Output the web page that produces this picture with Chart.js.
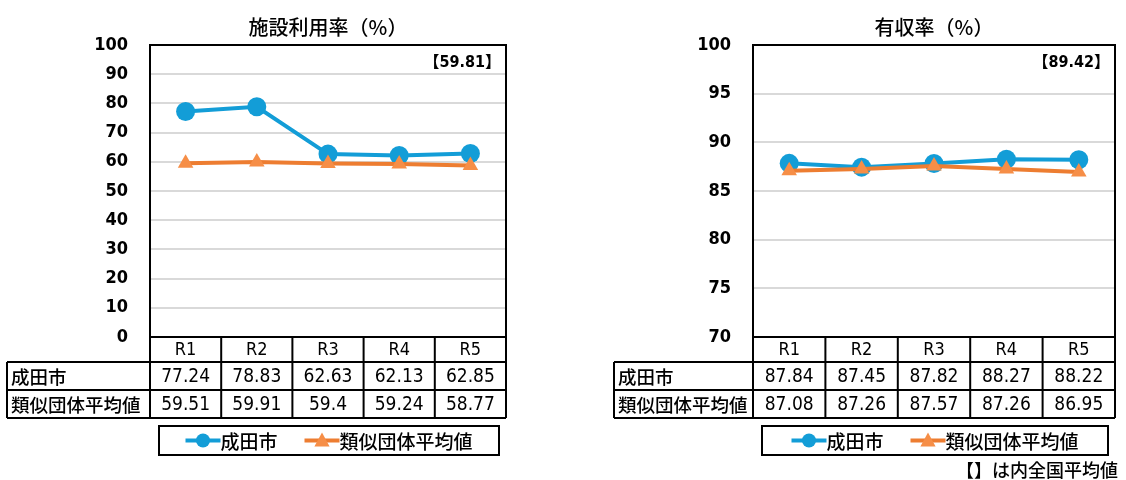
<!DOCTYPE html>
<html><head><meta charset="utf-8">
<script src="https://cdn.jsdelivr.net/npm/chart.js@4/dist/chart.umd.min.js"></script>
<style>
html,body{margin:0;padding:0;background:#fff;}
#wrap{position:relative;width:1126px;height:480px;overflow:hidden;}
.box{position:absolute;top:0;height:480px;width:563px;}
</style></head><body>
<div id="wrap">
<div class="box" style="left:0"><canvas id="c1" width="563" height="480"></canvas></div>
<div class="box" style="left:563px"><canvas id="c2" width="563" height="480"></canvas></div>
</div>
<script>
// ---- data ----
const categories = ['R1', 'R2', 'R3', 'R4', 'R5'];
const seriesNames = ['成田市', '類似団体平均値'];
const usageTitle = '施設利用率（%）';
const usageNarita = [77.24, 78.83, 62.63, 62.13, 62.85];
const usageSimilar = [59.51, 59.91, 59.4, 59.24, 58.77];
const usageNational = '59.81';
const usageYTicks = [0, 10, 20, 30, 40, 50, 60, 70, 80, 90, 100];
const revenueTitle = '有収率（%）';
const revenueNarita = [87.84, 87.45, 87.82, 88.27, 88.22];
const revenueSimilar = [87.08, 87.26, 87.57, 87.26, 86.95];
const revenueNational = '89.42';
const revenueYTicks = [70, 75, 80, 85, 90, 95, 100];
const footnoteText = '【】は内全国平均値';

// ---- styles ----
const NARROW = '"DejaVu Sans Condensed","Noto Sans CJK JP",sans-serif';
const JP = '"Noto Sans CJK JP",sans-serif';
const BLUE = '#139DD7', ORANGE = '#ED7D31', ORANGE_FILL = '#F68E47';
const JPW = '500';

function drawTri(ctx, x, y, r, color) {
  ctx.fillStyle = color;
  ctx.beginPath();
  ctx.moveTo(x, y - r);
  ctx.lineTo(x + r * 0.95, y + r * 0.75);
  ctx.lineTo(x - r * 0.95, y + r * 0.75);
  ctx.closePath();
  ctx.fill();
}

function makeChart(id, cfg) {
  const decor = {
    id: 'decor',
    beforeDatasetsDraw(chart) {
      const {ctx, chartArea: a} = chart;
      ctx.save();
      ctx.strokeStyle = '#000';
      ctx.lineWidth = 2;
      ctx.strokeRect(a.left, a.top, a.right - a.left, a.bottom - a.top);
      ctx.fillStyle = '#000';
      ctx.font = 'bold 16px ' + NARROW;
      ctx.textAlign = 'right';
      ctx.textBaseline = 'middle';
      ctx.fillText('【' + cfg.nat + '】', a.right - 5, a.top + 18);
      ctx.restore();
    },
    afterDraw(chart) {
      const {ctx, chartArea: a} = chart;
      const xs = chart.scales.x;
      const n = categories.length;
      const cw = (a.right - a.left) / n;
      const y0 = a.bottom, y1 = y0 + 25, y2 = y1 + 28, y3 = y2 + 28;
      const tl = cfg.tableLeft;
      ctx.save();
      ctx.strokeStyle = '#000';
      ctx.lineWidth = 2;
      ctx.beginPath();
      [y1, y2, y3].forEach(y => { ctx.moveTo(tl, y); ctx.lineTo(a.right, y); });
      ctx.moveTo(tl, y1); ctx.lineTo(tl, y3);
      for (let i = 0; i <= n; i++) {
        const x = a.left + i * cw;
        ctx.moveTo(x, y0); ctx.lineTo(x, y3);
      }
      ctx.stroke();
      ctx.fillStyle = '#000';
      ctx.textBaseline = 'middle';
      ctx.textAlign = 'center';
      ctx.font = '18px ' + NARROW;
      categories.forEach((c, i) => ctx.fillText(c, xs.getPixelForValue(i), (y0 + y1) / 2 + 1));
      ctx.font = '19px ' + NARROW;
      cfg.a.forEach((v, i) => ctx.fillText(String(v), xs.getPixelForValue(i), (y1 + y2) / 2 + 1));
      cfg.b.forEach((v, i) => ctx.fillText(String(v), xs.getPixelForValue(i), (y2 + y3) / 2 + 1));
      ctx.textAlign = 'left';
      ctx.font = JPW + ' 18.5px ' + JP;
      ctx.fillText(seriesNames[0], tl + 4, (y1 + y2) / 2 + 1);
      ctx.fillText(seriesNames[1], tl + 4, (y2 + y3) / 2 + 1);

      // legend
      const lx0 = a.left + 9, lx1 = a.right - 7, ly0 = a.bottom + 89, ly1 = a.bottom + 118;
      ctx.strokeRect(lx0, ly0, lx1 - lx0, ly1 - ly0);
      ctx.font = JPW + ' 19px ' + JP;
      const tw0 = ctx.measureText(seriesNames[0]).width;
      const tw1 = ctx.measureText(seriesNames[1]).width;
      const seg = 35, gap = 27;
      const total = seg + tw0 + gap + seg + tw1;
      let x = (lx0 + lx1) / 2 - total / 2;
      const ly = (ly0 + ly1) / 2;
      ctx.lineWidth = 4;
      ctx.strokeStyle = BLUE;
      ctx.beginPath(); ctx.moveTo(x, ly); ctx.lineTo(x + seg, ly); ctx.stroke();
      ctx.fillStyle = BLUE;
      ctx.beginPath(); ctx.arc(x + seg / 2, ly, 7, 0, Math.PI * 2); ctx.fill();
      ctx.fillStyle = '#000';
      ctx.fillText(seriesNames[0], x + seg, ly + 1);
      x += seg + tw0 + gap;
      ctx.strokeStyle = ORANGE;
      ctx.beginPath(); ctx.moveTo(x, ly); ctx.lineTo(x + seg, ly); ctx.stroke();
      drawTri(ctx, x + seg / 2, ly, 8, ORANGE_FILL);
      ctx.fillStyle = '#000';
      ctx.fillText(seriesNames[1], x + seg, ly + 1);

      if (cfg.footnote) {
        ctx.textAlign = 'right';
        ctx.font = JPW + ' 18px ' + JP;
        ctx.fillText(cfg.footnote, chart.width - 8, 470);
      }
      ctx.restore();
    }
  };

  const ticks = cfg.ticks;
  return new Chart(document.getElementById(id), {
    type: 'line',
    data: {
      labels: categories,
      datasets: [
        {label: seriesNames[0], data: cfg.a, borderColor: BLUE, backgroundColor: BLUE,
         borderWidth: 4, pointStyle: 'circle', pointRadius: 9.5, pointBorderWidth: 0,
         pointBackgroundColor: BLUE, order: 2},
        {label: seriesNames[1], data: cfg.b, borderColor: ORANGE, backgroundColor: ORANGE_FILL,
         borderWidth: 4, pointStyle: 'triangle', pointRadius: 9, pointBorderWidth: 0,
         pointBackgroundColor: ORANGE_FILL, order: 1}
      ]
    },
    options: {
      responsive: false,
      animation: false,
      devicePixelRatio: 1,
      layout: {padding: {left: 0, right: cfg.padRight, top: 7, bottom: 143}},
      plugins: {
        legend: {display: false},
        tooltip: {enabled: false},
        title: {display: true, text: cfg.title, fullSize: false, color: '#000',
                font: {family: JP, size: 20, weight: JPW}, padding: {top: 8, bottom: 6}}
      },
      scales: {
        x: {display: false, offset: true},
        y: {
          min: ticks[0], max: ticks[ticks.length - 1],
          afterFit: s => { s.width = cfg.yWidth; },
          border: {display: false},
          grid: {color: '#d9d9d9', lineWidth: 2, drawTicks: false},
          ticks: {stepSize: ticks[1] - ticks[0], color: '#000', padding: 22,
                  font: {family: NARROW, size: 18, weight: 'bold'}}
        }
      }
    },
    plugins: [decor]
  });
}

makeChart('c1', {title: usageTitle, a: usageNarita, b: usageSimilar, nat: usageNational,
  ticks: usageYTicks, yWidth: 150, padRight: 57, tableLeft: 7});
makeChart('c2', {title: revenueTitle, a: revenueNarita, b: revenueSimilar, nat: revenueNational,
  ticks: revenueYTicks, yWidth: 190, padRight: 11, tableLeft: 51, footnote: footnoteText});
</script>
</body></html>
